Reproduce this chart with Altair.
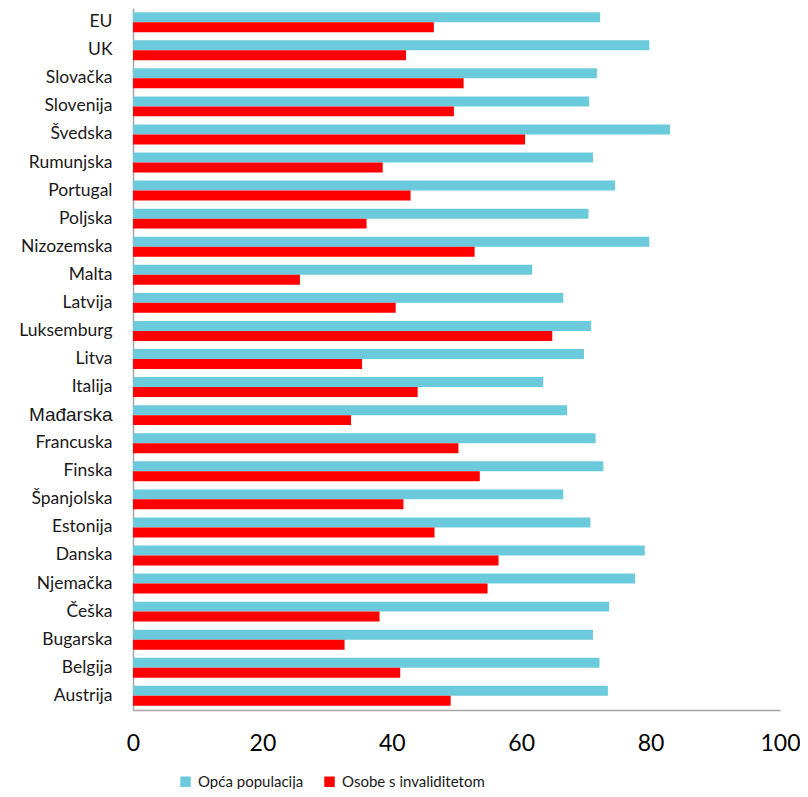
import altair as alt
import pandas as pd

countries = ["EU", "UK", "Slovačka", "Slovenija", "Švedska", "Rumunjska", "Portugal",
             "Poljska", "Nizozemska", "Malta", "Latvija", "Luksemburg", "Litva", "Italija",
             "Mađarska", "Francuska", "Finska", "Španjolska", "Estonija", "Danska",
             "Njemačka", "Češka", "Bugarska", "Belgija", "Austrija"]
opca = [72.2, 79.8, 71.7, 70.5, 83.0, 71.1, 74.5, 70.4, 79.8, 61.7, 66.5, 70.8, 69.7, 63.4,
        67.1, 71.5, 72.7, 66.5, 70.7, 79.1, 77.6, 73.6, 71.1, 72.1, 73.4]
invalid = [46.5, 42.2, 51.1, 49.6, 60.6, 38.6, 42.9, 36.1, 52.8, 25.8, 40.6, 64.8, 35.4, 44.0,
           33.7, 50.3, 53.6, 41.8, 46.6, 56.5, 54.8, 38.1, 32.7, 41.3, 49.1]
series = ["Opća populacija", "Osobe s invaliditetom"]
colors = ["#6BCADB", "#FF0000"]

rows = []
for c, a, b in zip(countries, opca, invalid):
    rows.append({"country": c, "series": series[0], "value": a})
    rows.append({"country": c, "series": series[1], "value": b})
df = pd.DataFrame(rows)

odd = "datum.value === 'Mađarska'"

chart = alt.Chart(df).mark_bar().encode(
    y=alt.Y("country:N", sort=countries, title=None,
            scale=alt.Scale(paddingInner=0.29, paddingOuter=0.15),
            axis=alt.Axis(labelFont={"condition": {"test": odd, "value": "Liberation Sans"}, "value": "Lato"},
                          labelFontSize={"condition": {"test": odd, "value": 19}, "value": 17.5},
                          labelColor="#1a1a1a", labelPadding=21, ticks=False,
                          domainColor="#A6A6A6", domainWidth=1.5, labelLimit=200)),
    yOffset=alt.YOffset("series:N", sort=series),
    x=alt.X("value:Q", title=None,
            scale=alt.Scale(domain=[0, 100], nice=False),
            axis=alt.Axis(values=[0, 20, 40, 60, 80, 100], labelFont="Lato", labelFontSize=23,
                          labelColor="#000000", labelPadding=22, ticks=False, grid=False,
                          labelFlush=False,
                          domainColor="#A6A6A6", domainWidth=1.5)),
    color=alt.Color("series:N", sort=series,
                    scale=alt.Scale(domain=series, range=colors),
                    legend=alt.Legend(title=None, orient="none", legendX=45, legendY=766,
                                      direction="horizontal", symbolType="square",
                                      symbolSize=110, symbolStrokeWidth=0,
                                      labelFont="Lato", labelFontSize=15, labelColor="#1a1a1a",
                                      columnPadding=18, labelOffset=5)),
).properties(
    width=647, height=702,
    autosize=alt.AutoSizeParams(type="none"),
    padding={"left": 125, "top": 0, "right": 20, "bottom": 79},
).configure_view(stroke=None)

chart.save("out.html", embed_options={"renderer": "svg", "actions": False})
